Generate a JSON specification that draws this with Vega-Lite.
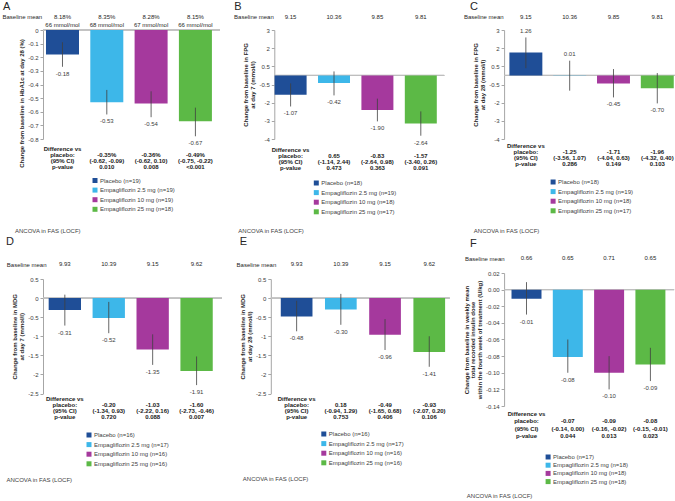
{
  "$schema": "https://vega.github.io/schema/vega-lite/v6.json",
  "background": "white",
  "padding": {"left": 2, "top": 1, "right": 0, "bottom": 0},
  "config": {
    "font": "Liberation Sans",
    "view": {"stroke": null},
    "locale": {"number": {"decimal": ".", "thousands": ",", "grouping": [3], "currency": ["$", ""], "minus": "-"}},
    "axisY": {"grid": false, "labelFontSize": 6, "labelColor": "#404040", "labelPadding": 2, "labelOverlap": false, "tickSize": 3, "tickColor": "#a6a6a6", "domainColor": "#a6a6a6", "titleFontSize": 6, "titleFontWeight": "bold", "titleColor": "#262626", "titlePadding": 3, "titleLineHeight": 7},
    "legend": {"orient": "none", "title": null, "symbolType": "square", "symbolSize": 25, "symbolStrokeWidth": 0, "labelFontSize": 6, "labelColor": "#404040", "labelOffset": 2, "rowPadding": 3.6, "padding": 0},
    "title": {"anchor": "start", "frame": "group", "fontWeight": "normal", "color": "#262626"}
  },
  "spacing": 12.1,
  "resolve": {"scale": {"color": "independent"}},
  "hconcat": [
    {
      "spacing": 2,
      "resolve": {"scale": {"color": "independent"}},
      "vconcat": [
        {
          "spacing": 12.3,
          "resolve": {"scale": {"color": "independent"}},
          "hconcat": [
            {
              "width": 177, "height": 109,
              "title": {"text": "A", "dx": -40, "offset": -9.5, "baseline": "bottom", "fontSize": 11},
              "data": {"values": [
                {"order": 1, "arm": "Placebo (n=19)", "top": "8.18%|66 mmol/mol", "diff": "Difference vs|placebo:|(95% CI)|p-value", "value": -0.18, "lo": -0.27, "hi": -0.09},
                {"order": 2, "arm": "Empagliflozin 2.5 mg (n=19)", "top": "8.35%|68 mmol/mol", "diff": "|-0.35%|(-0.62, -0.09)|0.010", "value": -0.53, "lo": -0.62, "hi": -0.44},
                {"order": 3, "arm": "Empagliflozin 10 mg (n=19)", "top": "8.28%|67 mmol/mol", "diff": "|-0.36%|(-0.62, 0.10)|0.008", "value": -0.54, "lo": -0.64, "hi": -0.45},
                {"order": 4, "arm": "Empagliflozin 25 mg (n=18)", "top": "8.15%|66 mmol/mol", "diff": "|-0.49%|(-0.75, -0.22)|<0.001", "value": -0.67, "lo": -0.78, "hi": -0.57}
              ]},
              "layer": [
                {"mark": {"type": "rule", "color": "#bfbfbf", "strokeWidth": 1}, "encoding": {"y": {"datum": 0, "type": "quantitative", "scale": {"domain": [-0.8, 0], "nice": false}, "axis": {"values": [0, -0.1, -0.2, -0.3, -0.4, -0.5, -0.6, -0.7, -0.8], "format": "~g", "title": "Change from baseline in HbA1c at day 28 (%)", "titleY": 73}}}},
                {"data": {"values": [{"note": "ANCOVA in FAS (LOCF)"}]}, "mark": {"type": "text", "align": "left", "baseline": "middle", "dx": -116.5, "dy": 91.5, "fontSize": 6, "color": "#404040"}, "encoding": {"y": {"datum": -0.8, "type": "quantitative", "scale": {"domain": [-0.8, 0], "nice": false}, "axis": {"values": [0, -0.1, -0.2, -0.3, -0.4, -0.5, -0.6, -0.7, -0.8], "format": "~g", "title": "Change from baseline in HbA1c at day 28 (%)", "titleY": 73}}, "text": {"field": "note"}}},
                {
                  "encoding": {"x": {"field": "arm", "type": "nominal", "sort": {"field": "order", "op": "min"}, "scale": {"paddingInner": 0.255, "paddingOuter": 0.125, "align": 0.27},
                    "axis": {"orient": "top", "labels": false, "ticks": false, "domain": false, "title": "Baseline mean", "titleAngle": 0, "titleAlign": "right", "titleBaseline": "middle", "titleX": -1.3, "titleY": -13.3, "titleFontSize": 6, "titleFontWeight": "normal", "titleColor": "#262626"}}},
                  "layer": [
                    {"mark": {"type": "bar"}, "encoding": {
                      "y": {"field": "value", "type": "quantitative", "scale": {"domain": [-0.8, 0], "nice": false}, "axis": {"values": [0, -0.1, -0.2, -0.3, -0.4, -0.5, -0.6, -0.7, -0.8], "format": "~g", "title": "Change from baseline in HbA1c at day 28 (%)", "titleY": 73}},
                      "color": {"field": "arm", "type": "nominal", "sort": {"field": "order", "op": "min"}, "scale": {"range": ["#1f4e97", "#3db7e9", "#a5399d", "#5cb946"]}, "legend": {"legendX": 49, "legendY": 147.5}}}},
                    {"mark": {"type": "rule", "color": "#404040", "strokeWidth": 0.8}, "encoding": {"y": {"field": "lo", "type": "quantitative", "scale": {"domain": [-0.8, 0], "nice": false}, "axis": {"values": [0, -0.1, -0.2, -0.3, -0.4, -0.5, -0.6, -0.7, -0.8], "format": "~g", "title": "Change from baseline in HbA1c at day 28 (%)", "titleY": 73}}, "y2": {"field": "hi"}}},
                    {"mark": {"type": "text", "baseline": "top", "dy": 4, "fontSize": 6, "color": "#404040"}, "encoding": {"y": {"field": "lo", "type": "quantitative", "scale": {"domain": [-0.8, 0], "nice": false}, "axis": {"values": [0, -0.1, -0.2, -0.3, -0.4, -0.5, -0.6, -0.7, -0.8], "format": "~g", "title": "Change from baseline in HbA1c at day 28 (%)", "titleY": 73}}, "text": {"condition": {"test": "datum.value < 0", "field": "value", "type": "quantitative", "format": ".2f"}, "value": ""}}},
                    {"mark": {"type": "text", "baseline": "bottom", "dy": -3.5, "fontSize": 6, "color": "#404040"}, "encoding": {"y": {"field": "hi", "type": "quantitative", "scale": {"domain": [-0.8, 0], "nice": false}, "axis": {"values": [0, -0.1, -0.2, -0.3, -0.4, -0.5, -0.6, -0.7, -0.8], "format": "~g", "title": "Change from baseline in HbA1c at day 28 (%)", "titleY": 73}}, "text": {"condition": {"test": "datum.value >= 0", "field": "value", "type": "quantitative", "format": ".2f"}, "value": ""}}},
                    {"mark": {"type": "text", "baseline": "middle", "dy": -13.3, "fontSize": 6, "lineBreak": "|", "lineHeight": 8.6, "color": "#262626"}, "encoding": {"y": {"datum": 0, "type": "quantitative", "scale": {"domain": [-0.8, 0], "nice": false}, "axis": {"values": [0, -0.1, -0.2, -0.3, -0.4, -0.5, -0.6, -0.7, -0.8], "format": "~g", "title": "Change from baseline in HbA1c at day 28 (%)", "titleY": 73}}, "text": {"field": "top"}}},
                    {"mark": {"type": "text", "baseline": "top", "dy": 7, "fontSize": 6, "fontWeight": "bold", "lineBreak": "|", "lineHeight": 6, "color": "#1a1a1a"}, "encoding": {"y": {"datum": -0.8, "type": "quantitative", "scale": {"domain": [-0.8, 0], "nice": false}, "axis": {"values": [0, -0.1, -0.2, -0.3, -0.4, -0.5, -0.6, -0.7, -0.8], "format": "~g", "title": "Change from baseline in HbA1c at day 28 (%)", "titleY": 73}}, "text": {"field": "diff"}}}
                  ]
                }
              ]
            },
            {
              "width": 170, "height": 109,
              "title": {"text": "B", "dx": -40, "offset": -9.5, "baseline": "bottom", "fontSize": 11},
              "data": {"values": [
                {"order": 1, "arm": "Placebo (n=18)", "top": "9.15", "diff": "Difference vs|placebo:|(95% CI)|p-value", "value": -1.07, "lo": -1.71, "hi": -0.44},
                {"order": 2, "arm": "Empagliflozin 2.5 mg (n=19)", "top": "10.36", "diff": "|0.65|(-1.14, 2.44)|0.473", "value": -0.42, "lo": -1.10, "hi": 0.22},
                {"order": 3, "arm": "Empagliflozin 10 mg (n=18)", "top": "9.85", "diff": "|-0.83|(-2.64, 0.98)|0.363", "value": -1.90, "lo": -2.53, "hi": -1.28},
                {"order": 4, "arm": "Empagliflozin 25 mg (n=17)", "top": "9.81", "diff": "|-1.57|(-3.40, 0.26)|0.091", "value": -2.64, "lo": -3.32, "hi": -1.98}
              ]},
              "layer": [
                {"mark": {"type": "rule", "color": "#bfbfbf", "strokeWidth": 1}, "encoding": {"y": {"datum": 0, "type": "quantitative", "scale": {"domain": [-3.5, 2.5], "nice": false}, "axis": {"values": [2.5, 1.5, 0.5, -0.5, -1.5, -2.5, -3.5], "format": "~g", "title": ["Change from baseline in FPG", "at day 7 (mmol/l)"]}}}},
                {"data": {"values": [{"note": "ANCOVA in FAS (LOCF)"}]}, "mark": {"type": "text", "align": "left", "baseline": "middle", "dx": -121, "dy": 92, "fontSize": 6, "color": "#404040"}, "encoding": {"y": {"datum": -3.5, "type": "quantitative", "scale": {"domain": [-3.5, 2.5], "nice": false}, "axis": {"values": [2.5, 1.5, 0.5, -0.5, -1.5, -2.5, -3.5], "format": "~g", "title": ["Change from baseline in FPG", "at day 7 (mmol/l)"]}}, "text": {"field": "note"}}},
                {
                  "encoding": {"x": {"field": "arm", "type": "nominal", "sort": {"field": "order", "op": "min"}, "scale": {"paddingInner": 0.263, "paddingOuter": 0.09, "align": 0.04},
                    "axis": {"orient": "top", "labels": false, "ticks": false, "domain": false, "title": "Baseline mean", "titleAngle": 0, "titleAlign": "right", "titleBaseline": "middle", "titleX": -1, "titleY": -13.3, "titleFontSize": 6, "titleFontWeight": "normal", "titleColor": "#262626"}}},
                  "layer": [
                    {"mark": {"type": "bar"}, "encoding": {
                      "y": {"field": "value", "type": "quantitative", "scale": {"domain": [-3.5, 2.5], "nice": false}, "axis": {"values": [2.5, 1.5, 0.5, -0.5, -1.5, -2.5, -3.5], "format": "~g", "title": ["Change from baseline in FPG", "at day 7 (mmol/l)"]}},
                      "color": {"field": "arm", "type": "nominal", "sort": {"field": "order", "op": "min"}, "scale": {"range": ["#1f4e97", "#3db7e9", "#a5399d", "#5cb946"]}, "legend": {"legendX": 39, "legendY": 150}}}},
                    {"mark": {"type": "rule", "color": "#404040", "strokeWidth": 0.8}, "encoding": {"y": {"field": "lo", "type": "quantitative", "scale": {"domain": [-3.5, 2.5], "nice": false}, "axis": {"values": [2.5, 1.5, 0.5, -0.5, -1.5, -2.5, -3.5], "format": "~g", "title": ["Change from baseline in FPG", "at day 7 (mmol/l)"]}}, "y2": {"field": "hi"}}},
                    {"mark": {"type": "text", "baseline": "top", "dy": 4, "fontSize": 6, "color": "#404040"}, "encoding": {"y": {"field": "lo", "type": "quantitative", "scale": {"domain": [-3.5, 2.5], "nice": false}, "axis": {"values": [2.5, 1.5, 0.5, -0.5, -1.5, -2.5, -3.5], "format": "~g", "title": ["Change from baseline in FPG", "at day 7 (mmol/l)"]}}, "text": {"condition": {"test": "datum.value < 0", "field": "value", "type": "quantitative", "format": ".2f"}, "value": ""}}},
                    {"mark": {"type": "text", "baseline": "bottom", "dy": -3.5, "fontSize": 6, "color": "#404040"}, "encoding": {"y": {"field": "hi", "type": "quantitative", "scale": {"domain": [-3.5, 2.5], "nice": false}, "axis": {"values": [2.5, 1.5, 0.5, -0.5, -1.5, -2.5, -3.5], "format": "~g", "title": ["Change from baseline in FPG", "at day 7 (mmol/l)"]}}, "text": {"condition": {"test": "datum.value >= 0", "field": "value", "type": "quantitative", "format": ".2f"}, "value": ""}}},
                    {"mark": {"type": "text", "baseline": "middle", "dy": -13.3, "fontSize": 6, "lineBreak": "|", "lineHeight": 8.6, "color": "#262626"}, "encoding": {"y": {"datum": 2.5, "type": "quantitative", "scale": {"domain": [-3.5, 2.5], "nice": false}, "axis": {"values": [2.5, 1.5, 0.5, -0.5, -1.5, -2.5, -3.5], "format": "~g", "title": ["Change from baseline in FPG", "at day 7 (mmol/l)"]}}, "text": {"field": "top"}}},
                    {"mark": {"type": "text", "baseline": "top", "dy": 8, "fontSize": 6, "fontWeight": "bold", "lineBreak": "|", "lineHeight": 6, "color": "#1a1a1a"}, "encoding": {"y": {"datum": -3.5, "type": "quantitative", "scale": {"domain": [-3.5, 2.5], "nice": false}, "axis": {"values": [2.5, 1.5, 0.5, -0.5, -1.5, -2.5, -3.5], "format": "~g", "title": ["Change from baseline in FPG", "at day 7 (mmol/l)"]}}, "text": {"field": "diff"}}}
                  ]
                }
              ]
            }
          ]
        },
        {
          "spacing": 12.8,
          "resolve": {"scale": {"color": "independent"}},
          "hconcat": [
            {
              "width": 179, "height": 114.5,
              "title": {"text": "D", "dx": -37, "offset": 3, "baseline": "bottom", "fontSize": 11},
              "data": {"values": [
                {"order": 1, "arm": "Placebo (n=16)", "top": "9.93", "diff": "Difference vs|placebo:|(95% CI)|p-value", "value": -0.31, "lo": -0.72, "hi": 0.09},
                {"order": 2, "arm": "Empagliflozin 2.5 mg (n=17)", "top": "10.39", "diff": "|-0.20|(-1.34, 0.93)|0.720", "value": -0.52, "lo": -0.92, "hi": -0.10},
                {"order": 3, "arm": "Empagliflozin 10 mg (n=16)", "top": "9.15", "diff": "|-1.03|(-2.22, 0.16)|0.088", "value": -1.35, "lo": -1.75, "hi": -0.95},
                {"order": 4, "arm": "Empagliflozin 25 mg (n=16)", "top": "9.62", "diff": "|-1.60|(-2.73, -0.46)|0.007", "value": -1.91, "lo": -2.28, "hi": -1.53}
              ]},
              "layer": [
                {"mark": {"type": "rule", "color": "#bfbfbf", "strokeWidth": 1}, "encoding": {"y": {"datum": 0, "type": "quantitative", "scale": {"domain": [-2.5, 0.5], "nice": false}, "axis": {"values": [0.5, 0, -0.5, -1, -1.5, -2, -2.5], "format": "~g", "title": ["Change from baseline in MDG", "at day 7 (mmol/l)"]}}}},
                {"data": {"values": [{"note": "ANCOVA in FAS (LOCF)"}]}, "mark": {"type": "text", "align": "left", "baseline": "middle", "dx": -126, "dy": 86, "fontSize": 6, "color": "#404040"}, "encoding": {"y": {"datum": -2.5, "type": "quantitative", "scale": {"domain": [-2.5, 0.5], "nice": false}, "axis": {"values": [0.5, 0, -0.5, -1, -1.5, -2, -2.5], "format": "~g", "title": ["Change from baseline in MDG", "at day 7 (mmol/l)"]}}, "text": {"field": "note"}}},
                {
                  "encoding": {"x": {"field": "arm", "type": "nominal", "sort": {"field": "order", "op": "min"}, "scale": {"paddingInner": 0.264, "paddingOuter": 0.17, "align": 0.38},
                    "axis": {"orient": "top", "labels": false, "ticks": false, "domain": false, "title": "Baseline mean", "titleAngle": 0, "titleAlign": "right", "titleBaseline": "middle", "titleX": 3, "titleY": -14.8, "titleFontSize": 6, "titleFontWeight": "normal", "titleColor": "#262626"}}},
                  "layer": [
                    {"mark": {"type": "bar"}, "encoding": {
                      "y": {"field": "value", "type": "quantitative", "scale": {"domain": [-2.5, 0.5], "nice": false}, "axis": {"values": [0.5, 0, -0.5, -1, -1.5, -2, -2.5], "format": "~g", "title": ["Change from baseline in MDG", "at day 7 (mmol/l)"]}},
                      "color": {"field": "arm", "type": "nominal", "sort": {"field": "order", "op": "min"}, "scale": {"range": ["#1f4e97", "#3db7e9", "#a5399d", "#5cb946"]}, "legend": {"legendX": 43, "legendY": 153}}}},
                    {"mark": {"type": "rule", "color": "#404040", "strokeWidth": 0.8}, "encoding": {"y": {"field": "lo", "type": "quantitative", "scale": {"domain": [-2.5, 0.5], "nice": false}, "axis": {"values": [0.5, 0, -0.5, -1, -1.5, -2, -2.5], "format": "~g", "title": ["Change from baseline in MDG", "at day 7 (mmol/l)"]}}, "y2": {"field": "hi"}}},
                    {"mark": {"type": "text", "baseline": "top", "dy": 4, "fontSize": 6, "color": "#404040"}, "encoding": {"y": {"field": "lo", "type": "quantitative", "scale": {"domain": [-2.5, 0.5], "nice": false}, "axis": {"values": [0.5, 0, -0.5, -1, -1.5, -2, -2.5], "format": "~g", "title": ["Change from baseline in MDG", "at day 7 (mmol/l)"]}}, "text": {"condition": {"test": "datum.value < 0", "field": "value", "type": "quantitative", "format": ".2f"}, "value": ""}}},
                    {"mark": {"type": "text", "baseline": "bottom", "dy": -3.5, "fontSize": 6, "color": "#404040"}, "encoding": {"y": {"field": "hi", "type": "quantitative", "scale": {"domain": [-2.5, 0.5], "nice": false}, "axis": {"values": [0.5, 0, -0.5, -1, -1.5, -2, -2.5], "format": "~g", "title": ["Change from baseline in MDG", "at day 7 (mmol/l)"]}}, "text": {"condition": {"test": "datum.value >= 0", "field": "value", "type": "quantitative", "format": ".2f"}, "value": ""}}},
                    {"mark": {"type": "text", "baseline": "middle", "dy": -14.8, "fontSize": 6, "lineBreak": "|", "lineHeight": 8.6, "color": "#262626"}, "encoding": {"y": {"datum": 0.5, "type": "quantitative", "scale": {"domain": [-2.5, 0.5], "nice": false}, "axis": {"values": [0.5, 0, -0.5, -1, -1.5, -2, -2.5], "format": "~g", "title": ["Change from baseline in MDG", "at day 7 (mmol/l)"]}}, "text": {"field": "top"}}},
                    {"mark": {"type": "text", "baseline": "top", "dy": 2, "fontSize": 6, "fontWeight": "bold", "lineBreak": "|", "lineHeight": 6, "color": "#1a1a1a"}, "encoding": {"y": {"datum": -2.5, "type": "quantitative", "scale": {"domain": [-2.5, 0.5], "nice": false}, "axis": {"values": [0.5, 0, -0.5, -1, -1.5, -2, -2.5], "format": "~g", "title": ["Change from baseline in MDG", "at day 7 (mmol/l)"]}}, "text": {"field": "diff"}}}
                  ]
                }
              ]
            },
            {
              "width": 179, "height": 114.5,
              "title": {"text": "E", "dx": -31, "offset": 3, "baseline": "bottom", "fontSize": 11},
              "data": {"values": [
                {"order": 1, "arm": "Placebo (n=16)", "top": "9.93", "diff": "Difference vs|placebo:|(95% CI)|p-value", "value": -0.48, "lo": -0.87, "hi": -0.07},
                {"order": 2, "arm": "Empagliflozin 2.5 mg (n=17)", "top": "10.39", "diff": "|0.18|(-0.94, 1.29)|0.753", "value": -0.30, "lo": -0.70, "hi": 0.11},
                {"order": 3, "arm": "Empagliflozin 10 mg (n=16)", "top": "9.15", "diff": "|-0.49|(-1.65, 0.68)|0.406", "value": -0.96, "lo": -1.36, "hi": -0.55},
                {"order": 4, "arm": "Empagliflozin 25 mg (n=16)", "top": "9.62", "diff": "|-0.93|(-2.07, 0.20)|0.106", "value": -1.41, "lo": -1.80, "hi": -1.00}
              ]},
              "layer": [
                {"mark": {"type": "rule", "color": "#bfbfbf", "strokeWidth": 1}, "encoding": {"y": {"datum": 0, "type": "quantitative", "scale": {"domain": [-2.5, 0.5], "nice": false}, "axis": {"values": [0.5, 0, -0.5, -1, -1.5, -2, -2.5], "format": "~g", "title": ["Change from baseline in MDG", "at day 28 (mmol/l)"]}}}},
                {"data": {"values": [{"note": "ANCOVA in FAS (LOCF)"}]}, "mark": {"type": "text", "align": "left", "baseline": "middle", "dx": -117.5, "dy": 85.5, "fontSize": 6, "color": "#404040"}, "encoding": {"y": {"datum": -2.5, "type": "quantitative", "scale": {"domain": [-2.5, 0.5], "nice": false}, "axis": {"values": [0.5, 0, -0.5, -1, -1.5, -2, -2.5], "format": "~g", "title": ["Change from baseline in MDG", "at day 28 (mmol/l)"]}}, "text": {"field": "note"}}},
                {
                  "encoding": {"x": {"field": "arm", "type": "nominal", "sort": {"field": "order", "op": "min"}, "scale": {"paddingInner": 0.283, "paddingOuter": 0.166, "align": 0.68},
                    "axis": {"orient": "top", "labels": false, "ticks": false, "domain": false, "title": "Baseline mean", "titleAngle": 0, "titleAlign": "right", "titleBaseline": "middle", "titleX": 5, "titleY": -14.8, "titleFontSize": 6, "titleFontWeight": "normal", "titleColor": "#262626"}}},
                  "layer": [
                    {"mark": {"type": "bar"}, "encoding": {
                      "y": {"field": "value", "type": "quantitative", "scale": {"domain": [-2.5, 0.5], "nice": false}, "axis": {"values": [0.5, 0, -0.5, -1, -1.5, -2, -2.5], "format": "~g", "title": ["Change from baseline in MDG", "at day 28 (mmol/l)"]}},
                      "color": {"field": "arm", "type": "nominal", "sort": {"field": "order", "op": "min"}, "scale": {"range": ["#1f4e97", "#3db7e9", "#a5399d", "#5cb946"]}, "legend": {"legendX": 50, "legendY": 152}}}},
                    {"mark": {"type": "rule", "color": "#404040", "strokeWidth": 0.8}, "encoding": {"y": {"field": "lo", "type": "quantitative", "scale": {"domain": [-2.5, 0.5], "nice": false}, "axis": {"values": [0.5, 0, -0.5, -1, -1.5, -2, -2.5], "format": "~g", "title": ["Change from baseline in MDG", "at day 28 (mmol/l)"]}}, "y2": {"field": "hi"}}},
                    {"mark": {"type": "text", "baseline": "top", "dy": 4, "fontSize": 6, "color": "#404040"}, "encoding": {"y": {"field": "lo", "type": "quantitative", "scale": {"domain": [-2.5, 0.5], "nice": false}, "axis": {"values": [0.5, 0, -0.5, -1, -1.5, -2, -2.5], "format": "~g", "title": ["Change from baseline in MDG", "at day 28 (mmol/l)"]}}, "text": {"condition": {"test": "datum.value < 0", "field": "value", "type": "quantitative", "format": ".2f"}, "value": ""}}},
                    {"mark": {"type": "text", "baseline": "bottom", "dy": -3.5, "fontSize": 6, "color": "#404040"}, "encoding": {"y": {"field": "hi", "type": "quantitative", "scale": {"domain": [-2.5, 0.5], "nice": false}, "axis": {"values": [0.5, 0, -0.5, -1, -1.5, -2, -2.5], "format": "~g", "title": ["Change from baseline in MDG", "at day 28 (mmol/l)"]}}, "text": {"condition": {"test": "datum.value >= 0", "field": "value", "type": "quantitative", "format": ".2f"}, "value": ""}}},
                    {"mark": {"type": "text", "baseline": "middle", "dy": -14.8, "fontSize": 6, "lineBreak": "|", "lineHeight": 8.6, "color": "#262626"}, "encoding": {"y": {"datum": 0.5, "type": "quantitative", "scale": {"domain": [-2.5, 0.5], "nice": false}, "axis": {"values": [0.5, 0, -0.5, -1, -1.5, -2, -2.5], "format": "~g", "title": ["Change from baseline in MDG", "at day 28 (mmol/l)"]}}, "text": {"field": "top"}}},
                    {"mark": {"type": "text", "baseline": "top", "dy": 2, "fontSize": 6, "fontWeight": "bold", "lineBreak": "|", "lineHeight": 6, "color": "#1a1a1a"}, "encoding": {"y": {"datum": -2.5, "type": "quantitative", "scale": {"domain": [-2.5, 0.5], "nice": false}, "axis": {"values": [0.5, 0, -0.5, -1, -1.5, -2, -2.5], "format": "~g", "title": ["Change from baseline in MDG", "at day 28 (mmol/l)"]}}, "text": {"field": "diff"}}}
                  ]
                }
              ]
            }
          ]
        }
      ]
    },
    {
      "spacing": 3,
      "resolve": {"scale": {"color": "independent"}},
      "vconcat": [
        {
          "width": 174, "height": 109,
          "title": {"text": "C", "dx": -34, "offset": -9.5, "baseline": "bottom", "fontSize": 11},
          "data": {"values": [
            {"order": 1, "arm": "Placebo (n=18)", "top": "9.15", "diff": "Difference vs|placebo:|(95% CI)|p-value", "value": 1.26, "lo": 0.40, "hi": 2.09},
            {"order": 2, "arm": "Empagliflozin 2.5 mg (n=19)", "top": "10.36", "diff": "|-1.25|(-3.56, 1.07)|0.286", "value": 0.01, "lo": -0.84, "hi": 0.81},
            {"order": 3, "arm": "Empagliflozin 10 mg (n=18)", "top": "9.85", "diff": "|-1.71|(-4.04, 0.63)|0.149", "value": -0.45, "lo": -1.21, "hi": 0.35},
            {"order": 4, "arm": "Empagliflozin 25 mg (n=17)", "top": "9.81", "diff": "|-1.96|(-4.32, 0.40)|0.103", "value": -0.70, "lo": -1.54, "hi": 0.13}
          ]},
          "layer": [
            {"mark": {"type": "rule", "color": "#bfbfbf", "strokeWidth": 1}, "encoding": {"y": {"datum": 0, "type": "quantitative", "scale": {"domain": [-3.5, 2.5], "nice": false}, "axis": {"values": [2.5, 1.5, 0.5, -0.5, -1.5, -2.5, -3.5], "format": "~g", "title": ["Change from baseline in FPG", "at day 28 (mmol/l)"]}}}},
            {"data": {"values": [{"note": "ANCOVA in FAS (LOCF)"}]}, "mark": {"type": "text", "align": "left", "baseline": "middle", "dx": -117.3, "dy": 92, "fontSize": 6, "color": "#404040"}, "encoding": {"y": {"datum": -3.5, "type": "quantitative", "scale": {"domain": [-3.5, 2.5], "nice": false}, "axis": {"values": [2.5, 1.5, 0.5, -0.5, -1.5, -2.5, -3.5], "format": "~g", "title": ["Change from baseline in FPG", "at day 28 (mmol/l)"]}}, "text": {"field": "note"}}},
            {
              "encoding": {"x": {"field": "arm", "type": "nominal", "sort": {"field": "order", "op": "min"}, "scale": {"paddingInner": 0.248, "paddingOuter": 0.11, "align": 0.55},
                "axis": {"orient": "top", "labels": false, "ticks": false, "domain": false, "title": "Baseline mean", "titleAngle": 0, "titleAlign": "right", "titleBaseline": "middle", "titleX": -1, "titleY": -13.3, "titleFontSize": 6, "titleFontWeight": "normal", "titleColor": "#262626"}}},
              "layer": [
                {"mark": {"type": "bar"}, "encoding": {
                  "y": {"field": "value", "type": "quantitative", "scale": {"domain": [-3.5, 2.5], "nice": false}, "axis": {"values": [2.5, 1.5, 0.5, -0.5, -1.5, -2.5, -3.5], "format": "~g", "title": ["Change from baseline in FPG", "at day 28 (mmol/l)"]}},
                  "color": {"field": "arm", "type": "nominal", "sort": {"field": "order", "op": "min"}, "scale": {"range": ["#1f4e97", "#3db7e9", "#a5399d", "#5cb946"]}, "legend": {"legendX": 46, "legendY": 149}}}},
                {"mark": {"type": "rule", "color": "#404040", "strokeWidth": 0.8}, "encoding": {"y": {"field": "lo", "type": "quantitative", "scale": {"domain": [-3.5, 2.5], "nice": false}, "axis": {"values": [2.5, 1.5, 0.5, -0.5, -1.5, -2.5, -3.5], "format": "~g", "title": ["Change from baseline in FPG", "at day 28 (mmol/l)"]}}, "y2": {"field": "hi"}}},
                {"mark": {"type": "text", "baseline": "top", "dy": 4, "fontSize": 6, "color": "#404040"}, "encoding": {"y": {"field": "lo", "type": "quantitative", "scale": {"domain": [-3.5, 2.5], "nice": false}, "axis": {"values": [2.5, 1.5, 0.5, -0.5, -1.5, -2.5, -3.5], "format": "~g", "title": ["Change from baseline in FPG", "at day 28 (mmol/l)"]}}, "text": {"condition": {"test": "datum.value < 0", "field": "value", "type": "quantitative", "format": ".2f"}, "value": ""}}},
                {"mark": {"type": "text", "baseline": "bottom", "dy": -3.5, "fontSize": 6, "color": "#404040"}, "encoding": {"y": {"field": "hi", "type": "quantitative", "scale": {"domain": [-3.5, 2.5], "nice": false}, "axis": {"values": [2.5, 1.5, 0.5, -0.5, -1.5, -2.5, -3.5], "format": "~g", "title": ["Change from baseline in FPG", "at day 28 (mmol/l)"]}}, "text": {"condition": {"test": "datum.value >= 0", "field": "value", "type": "quantitative", "format": ".2f"}, "value": ""}}},
                {"mark": {"type": "text", "baseline": "middle", "dy": -13.3, "fontSize": 6, "lineBreak": "|", "lineHeight": 8.6, "color": "#262626"}, "encoding": {"y": {"datum": 2.5, "type": "quantitative", "scale": {"domain": [-3.5, 2.5], "nice": false}, "axis": {"values": [2.5, 1.5, 0.5, -0.5, -1.5, -2.5, -3.5], "format": "~g", "title": ["Change from baseline in FPG", "at day 28 (mmol/l)"]}}, "text": {"field": "top"}}},
                {"mark": {"type": "text", "baseline": "top", "dy": 4, "fontSize": 6, "fontWeight": "bold", "lineBreak": "|", "lineHeight": 6, "color": "#1a1a1a"}, "encoding": {"y": {"datum": -3.5, "type": "quantitative", "scale": {"domain": [-3.5, 2.5], "nice": false}, "axis": {"values": [2.5, 1.5, 0.5, -0.5, -1.5, -2.5, -3.5], "format": "~g", "title": ["Change from baseline in FPG", "at day 28 (mmol/l)"]}}, "text": {"field": "diff"}}}
              ]
            }
          ]
        },
        {
          "width": 170, "height": 133,
          "title": {"text": "F", "dx": -34, "offset": -4.5, "baseline": "bottom", "fontSize": 11},
          "data": {"values": [
            {"order": 1, "arm": "Placebo (n=17)", "top": "0.66", "diff": "Difference vs|placebo:|(95% CI)|p-value", "value": -0.011, "lo": -0.03, "hi": 0.009},
            {"order": 2, "arm": "Empagliflozin 2.5 mg (n=18)", "top": "0.65", "diff": "|-0.07|(-0.14, 0.00)|0.044", "value": -0.081, "lo": -0.10, "hi": -0.06},
            {"order": 3, "arm": "Empagliflozin 10 mg (n=18)", "top": "0.71", "diff": "|-0.09|(-0.16, -0.02)|0.013", "value": -0.10, "lo": -0.12, "hi": -0.08},
            {"order": 4, "arm": "Empagliflozin 25 mg (n=18)", "top": "0.65", "diff": "|-0.08|(-0.15, -0.01)|0.023", "value": -0.09, "lo": -0.11, "hi": -0.07}
          ]},
          "layer": [
            {"mark": {"type": "rule", "color": "#bfbfbf", "strokeWidth": 1}, "encoding": {"y": {"datum": 0, "type": "quantitative", "scale": {"domain": [-0.14, 0.02], "nice": false}, "axis": {"values": [0.02, 0, -0.02, -0.04, -0.06, -0.08, -0.1, -0.12, -0.14], "format": ".2f", "titleLineHeight": 6.5, "title": ["Change from baseline in weekly mean", "total recorded insulin dose", "within the fourth week of treatment (U/kg)"]}}}},
            {"data": {"values": [{"note": "ANCOVA in FAS (LOCF)"}]}, "mark": {"type": "text", "align": "left", "baseline": "middle", "dx": -122.3, "dy": 90, "fontSize": 6, "color": "#404040"}, "encoding": {"y": {"datum": -0.14, "type": "quantitative", "scale": {"domain": [-0.14, 0.02], "nice": false}, "axis": {"values": [0.02, 0, -0.02, -0.04, -0.06, -0.08, -0.1, -0.12, -0.14], "format": ".2f", "titleLineHeight": 6.5, "title": ["Change from baseline in weekly mean", "total recorded insulin dose", "within the fourth week of treatment (U/kg)"]}}, "text": {"field": "note"}}},
            {
              "encoding": {"x": {"field": "arm", "type": "nominal", "sort": {"field": "order", "op": "min"}, "scale": {"paddingInner": 0.274, "paddingOuter": 0.195, "align": 0.46},
                "axis": {"orient": "top", "labels": false, "ticks": false, "domain": false, "title": "Baseline mean", "titleAngle": 0, "titleAlign": "right", "titleBaseline": "middle", "titleX": 0, "titleY": -15, "titleFontSize": 6, "titleFontWeight": "normal", "titleColor": "#262626"}}},
              "layer": [
                {"mark": {"type": "bar"}, "encoding": {
                  "y": {"field": "value", "type": "quantitative", "scale": {"domain": [-0.14, 0.02], "nice": false}, "axis": {"values": [0.02, 0, -0.02, -0.04, -0.06, -0.08, -0.1, -0.12, -0.14], "format": ".2f", "titleLineHeight": 6.5, "title": ["Change from baseline in weekly mean", "total recorded insulin dose", "within the fourth week of treatment (U/kg)"]}},
                  "color": {"field": "arm", "type": "nominal", "sort": {"field": "order", "op": "min"}, "scale": {"range": ["#1f4e97", "#3db7e9", "#a5399d", "#5cb946"]}, "legend": {"legendX": 41, "legendY": 181, "rowPadding": 2.2}}}},
                {"mark": {"type": "rule", "color": "#404040", "strokeWidth": 0.8}, "encoding": {"y": {"field": "lo", "type": "quantitative", "scale": {"domain": [-0.14, 0.02], "nice": false}, "axis": {"values": [0.02, 0, -0.02, -0.04, -0.06, -0.08, -0.1, -0.12, -0.14], "format": ".2f", "titleLineHeight": 6.5, "title": ["Change from baseline in weekly mean", "total recorded insulin dose", "within the fourth week of treatment (U/kg)"]}}, "y2": {"field": "hi"}}},
                {"mark": {"type": "text", "baseline": "top", "dy": 4, "fontSize": 6, "color": "#404040"}, "encoding": {"y": {"field": "lo", "type": "quantitative", "scale": {"domain": [-0.14, 0.02], "nice": false}, "axis": {"values": [0.02, 0, -0.02, -0.04, -0.06, -0.08, -0.1, -0.12, -0.14], "format": ".2f", "titleLineHeight": 6.5, "title": ["Change from baseline in weekly mean", "total recorded insulin dose", "within the fourth week of treatment (U/kg)"]}}, "text": {"condition": {"test": "datum.value < 0", "field": "value", "type": "quantitative", "format": ".2f"}, "value": ""}}},
                {"mark": {"type": "text", "baseline": "bottom", "dy": -3.5, "fontSize": 6, "color": "#404040"}, "encoding": {"y": {"field": "hi", "type": "quantitative", "scale": {"domain": [-0.14, 0.02], "nice": false}, "axis": {"values": [0.02, 0, -0.02, -0.04, -0.06, -0.08, -0.1, -0.12, -0.14], "format": ".2f", "titleLineHeight": 6.5, "title": ["Change from baseline in weekly mean", "total recorded insulin dose", "within the fourth week of treatment (U/kg)"]}}, "text": {"condition": {"test": "datum.value >= 0", "field": "value", "type": "quantitative", "format": ".2f"}, "value": ""}}},
                {"mark": {"type": "text", "baseline": "middle", "dy": -15, "fontSize": 6, "lineBreak": "|", "lineHeight": 8.6, "color": "#262626"}, "encoding": {"y": {"datum": 0.02, "type": "quantitative", "scale": {"domain": [-0.14, 0.02], "nice": false}, "axis": {"values": [0.02, 0, -0.02, -0.04, -0.06, -0.08, -0.1, -0.12, -0.14], "format": ".2f", "titleLineHeight": 6.5, "title": ["Change from baseline in weekly mean", "total recorded insulin dose", "within the fourth week of treatment (U/kg)"]}}, "text": {"field": "top"}}},
                {"mark": {"type": "text", "baseline": "top", "dy": 5, "fontSize": 6, "fontWeight": "bold", "lineBreak": "|", "lineHeight": 7.3, "color": "#1a1a1a"}, "encoding": {"y": {"datum": -0.14, "type": "quantitative", "scale": {"domain": [-0.14, 0.02], "nice": false}, "axis": {"values": [0.02, 0, -0.02, -0.04, -0.06, -0.08, -0.1, -0.12, -0.14], "format": ".2f", "titleLineHeight": 6.5, "title": ["Change from baseline in weekly mean", "total recorded insulin dose", "within the fourth week of treatment (U/kg)"]}}, "text": {"field": "diff"}}}
              ]
            }
          ]
        }
      ]
    }
  ]
}
